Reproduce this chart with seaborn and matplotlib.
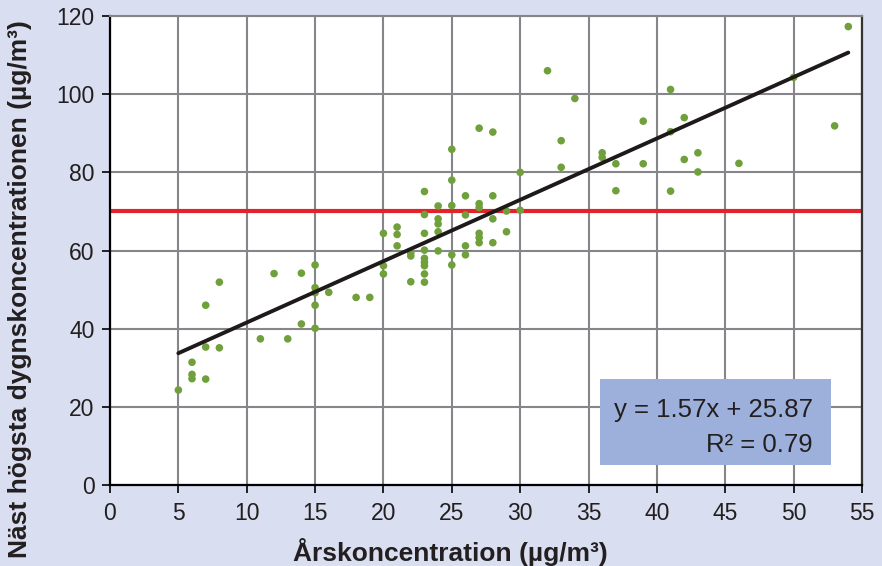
import matplotlib
matplotlib.use("Agg")
import matplotlib.pyplot as plt
from matplotlib.patches import Rectangle
import seaborn as sns
import numpy as np
import pandas as pd

# annual concentration (x) vs second highest daily concentration (y)
arsk = [5, 6, 6, 6, 7, 7, 7, 8, 8, 11, 12, 13, 14, 14, 15, 15, 15, 15, 15, 16,
        18, 19, 20, 20, 20, 21, 21, 21, 22, 22, 22,
        23, 23, 23, 23, 23, 23, 23, 23, 23,
        24, 24, 24, 24, 24,
        25, 25, 25, 25, 25,
        26, 26, 26, 26,
        27, 27, 27, 27, 27, 27,
        28, 28, 28, 28,
        29, 29, 30, 30,
        32, 33, 33, 34,
        36, 36, 37, 37, 39, 39,
        41, 41, 41, 42, 42, 43, 43, 46, 50, 53, 54]
dygn = [24.3, 31.4, 28.3, 27.2, 46.0, 35.3, 27.1, 51.9, 35.1, 37.4, 54.1, 37.4, 54.2, 41.2, 56.3, 50.5, 49.2, 46.0, 40.1, 49.3,
        48.0, 48.0, 64.4, 56.1, 54.0, 66.0, 64.1, 61.2, 59.4, 58.6, 52.0,
        75.1, 69.2, 64.4, 60.1, 58.0, 57.0, 56.1, 54.0, 51.9,
        71.4, 68.1, 66.8, 64.8, 59.9,
        85.9, 78.0, 71.5, 58.9, 56.3,
        74.0, 69.1, 61.2, 58.9,
        91.3, 72.0, 71.0, 64.4, 63.3, 62.0,
        90.3, 74.0, 68.1, 62.0,
        70.1, 64.8, 80.0, 70.3,
        106.0, 88.1, 81.3, 98.9,
        85.0, 83.8, 82.2, 75.3, 93.1, 82.2,
        101.2, 90.4, 75.2, 94.0, 83.3, 85.0, 80.1, 82.3, 104.3, 91.9, 117.3]

slope = 1.57
intercept = 25.87
r2 = 0.79
grans = 70  # limit value

df = pd.DataFrame({"x": arsk, "y": dygn})

sns.set_style("white")
plt.rcParams["font.family"] = ["Liberation Sans", "DejaVu Sans"]
txt_col = "#231F20"

fig = plt.figure(figsize=(8.82, 5.66), dpi=100, facecolor="#D9DEF0")
ax = fig.add_axes([0.1247, 0.1431, 0.8526, 0.8286])
ax.set_facecolor("white")

ax.axhline(grans, color="#E3232B", lw=3, zorder=2)

sns.scatterplot(data=df, x="x", y="y", ax=ax, color="#70A03C", s=30,
                edgecolor="none", zorder=3)

xl = np.array([min(arsk), max(arsk)])
ax.plot(xl, slope * xl + intercept, color="#1E1A1A", lw=2.8, zorder=4)

ax.set_xlim(0, 55)
ax.set_ylim(0, 120)
ax.set_xticks(range(0, 56, 5))
ax.set_yticks(range(0, 121, 20))
ax.grid(True, color="#86868A", lw=1.5)
ax.set_axisbelow(True)

for side in ["left", "bottom"]:
    ax.spines[side].set_color("black")
    ax.spines[side].set_linewidth(1.6)
ax.spines["right"].set_color("#333333")
ax.spines["right"].set_linewidth(1.6)
ax.spines["top"].set_color("#86868A")
ax.spines["top"].set_linewidth(1.5)

ax.tick_params(axis="both", direction="out", length=6, width=1.2, colors="black",
               labelcolor=txt_col, labelsize=16.5, left=True, bottom=True)
ax.tick_params(axis="y", pad=5)
ax.tick_params(axis="x", pad=6)

ax.set_xlabel("Årskoncentration (µg/m³)", fontsize=19, fontweight="bold", color=txt_col)
ax.set_ylabel("Näst högsta dygnskoncentrationen (µg/m³)", fontsize=19,
              fontweight="bold", color=txt_col)
ax.xaxis.set_label_coords(0.452, -0.143)
ax.xaxis.label.set_verticalalignment("center")
ax.yaxis.set_label_coords(-0.12, 0.418)
ax.yaxis.label.set_verticalalignment("center")

# regression equation box
fig.patches.append(Rectangle((0.680, 0.1784), 0.262, 0.152, transform=fig.transFigure,
                             facecolor="#9DB0DC", edgecolor="none", zorder=5))
fig.text(0.9218, 0.2638, f"y = {slope:.2f}x + {intercept:.2f}", ha="right",
         va="baseline", fontsize=18.5, color=txt_col, zorder=6)
fig.text(0.9218, 0.2019, f"R² = {r2:.2f}", ha="right", va="baseline",
         fontsize=18.5, color=txt_col, zorder=6)

fig.savefig("out.png", dpi=100, facecolor=fig.get_facecolor())
